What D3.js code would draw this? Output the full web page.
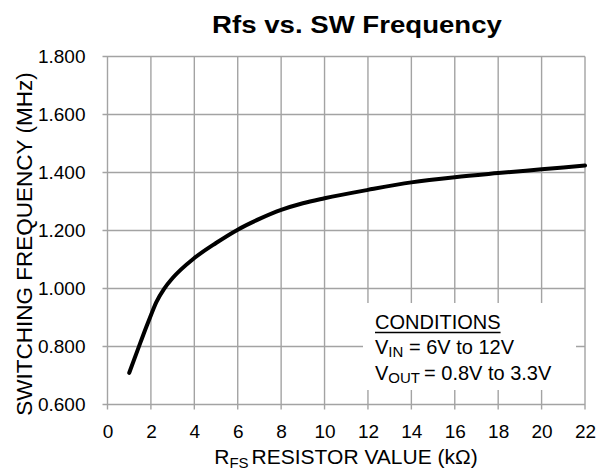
<!DOCTYPE html>
<html>
<head>
<meta charset="utf-8">
<script src="https://cdn.jsdelivr.net/npm/d3@7"></script>
<style>
  html, body { margin: 0; padding: 0; background: #fff; }
  svg { display: block; font-family: Arial, "Liberation Sans", Helvetica, sans-serif; }
</style>
</head>
<body>
<svg id="chart" width="598" height="470"></svg>
<script>
// Rfs resistor value (kOhm) and resulting switching frequency (MHz)
const resistance = [1, 1.4, 1.8, 2, 2.25, 2.6, 3, 4, 5, 6, 7, 8, 9, 10, 12, 14, 16, 18, 20, 22];
const frequency  = [0.709, 0.790, 0.870, 0.908, 0.953, 0.998, 1.036, 1.105, 1.157, 1.203,
                    1.240, 1.271, 1.294, 1.311, 1.340, 1.366, 1.384, 1.398, 1.411, 1.424];

const xTicks = [0, 2, 4, 6, 8, 10, 12, 14, 16, 18, 20, 22];
const yTicks = [0.6, 0.8, 1.0, 1.2, 1.4, 1.6, 1.8];

const titleText = "Rfs vs. SW Frequency";
const yLabelText = "SWITCHING FREQUENCY (MHz)";
const conditionsTitle = "CONDITIONS";

const svg = d3.select("#chart");
const gridColor = "#a3a3a3";

const x = d3.scaleLinear().domain([0, 22]).range([107.5, 585]);
const y = d3.scaleLinear().domain([0.6, 1.8]).range([404.5, 56.5]);

// grid
const grid = svg.append("g").attr("stroke", gridColor).attr("stroke-width", 1.4);
grid.selectAll("line.v").data(xTicks).join("line")
  .attr("class", "v")
  .attr("x1", d => x(d)).attr("x2", d => x(d))
  .attr("y1", y(1.8)).attr("y2", y(0.6) + 5);
grid.selectAll("line.h").data(yTicks).join("line")
  .attr("class", "h")
  .attr("y1", d => y(d)).attr("y2", d => y(d))
  .attr("x1", x(0) - 5).attr("x2", x(22));

// axes (labels only, grid lines above double as ticks)
const xAxis = svg.append("g")
  .attr("transform", `translate(0,${y(0.6)})`)
  .call(d3.axisBottom(x).tickValues(xTicks).tickSize(0).tickPadding(20).tickFormat(d3.format("d")));
xAxis.select(".domain").remove();
xAxis.selectAll("text").attr("font-size", 19).attr("fill", "#000")
  .attr("font-family", "Arial, 'Liberation Sans', sans-serif");

const yAxis = svg.append("g")
  .attr("transform", `translate(${x(0)},0)`)
  .call(d3.axisLeft(y).tickValues(yTicks).tickSize(0).tickPadding(22).tickFormat(d3.format(".3f")));
yAxis.select(".domain").remove();
yAxis.selectAll("text").attr("font-size", 19).attr("fill", "#000")
  .attr("font-family", "Arial, 'Liberation Sans', sans-serif");

// conditions box
svg.append("rect")
  .attr("x", 363).attr("y", 303).attr("width", 213).attr("height", 87)
  .attr("fill", "#fff");

const cond = svg.append("g").attr("font-size", 20).attr("fill", "#000");
const ct = cond.append("text").attr("x", 375).attr("y", 329.3).text(conditionsTitle);
const ctw = ct.node().getComputedTextLength();
cond.append("line")
  .attr("x1", 375).attr("x2", 375 + ctw)
  .attr("y1", 332.5).attr("y2", 332.5)
  .attr("stroke", "#000").attr("stroke-width", 1.5);

const vin = cond.append("text").attr("x", 375).attr("y", 354.3);
vin.append("tspan").text("V");
vin.append("tspan").attr("font-size", 15).attr("dy", 3).text("IN");
vin.append("tspan").attr("dy", -3).text(" = 6V to 12V");

const vout = cond.append("text").attr("x", 375).attr("y", 380);
vout.append("tspan").text("V");
vout.append("tspan").attr("font-size", 15).attr("dy", 3).text("OUT");
vout.append("tspan").attr("dy", -3).attr("dx", 4).text("= 0.8V to 3.3V");

// curve
const line = d3.line()
  .x((d, i) => x(resistance[i]))
  .y(d => y(d))
  .curve(d3.curveMonotoneX);
svg.append("path")
  .datum(frequency)
  .attr("d", line)
  .attr("fill", "none")
  .attr("stroke", "#000")
  .attr("stroke-width", 4)
  .attr("stroke-linecap", "round")
  .attr("stroke-linejoin", "round");

// title
svg.append("text")
  .attr("transform", "translate(357,33.3) scale(1.15,1)")
  .attr("text-anchor", "middle")
  .attr("font-size", 24).attr("font-weight", "bold")
  .text(titleText);

// y label
svg.append("text")
  .attr("transform", "translate(31.5,244) rotate(-90)")
  .attr("text-anchor", "middle")
  .attr("font-size", 22.5)
  .text(yLabelText);

// x label
const xl = svg.append("text")
  .attr("x", 346).attr("y", 464)
  .attr("text-anchor", "middle")
  .attr("font-size", 21);
xl.append("tspan").text("R");
xl.append("tspan").attr("font-size", 15).attr("dy", 4).text("FS");
xl.append("tspan").attr("dy", -4).attr("dx", 3).text("RESISTOR VALUE (kΩ)");
</script>
</body>
</html>
